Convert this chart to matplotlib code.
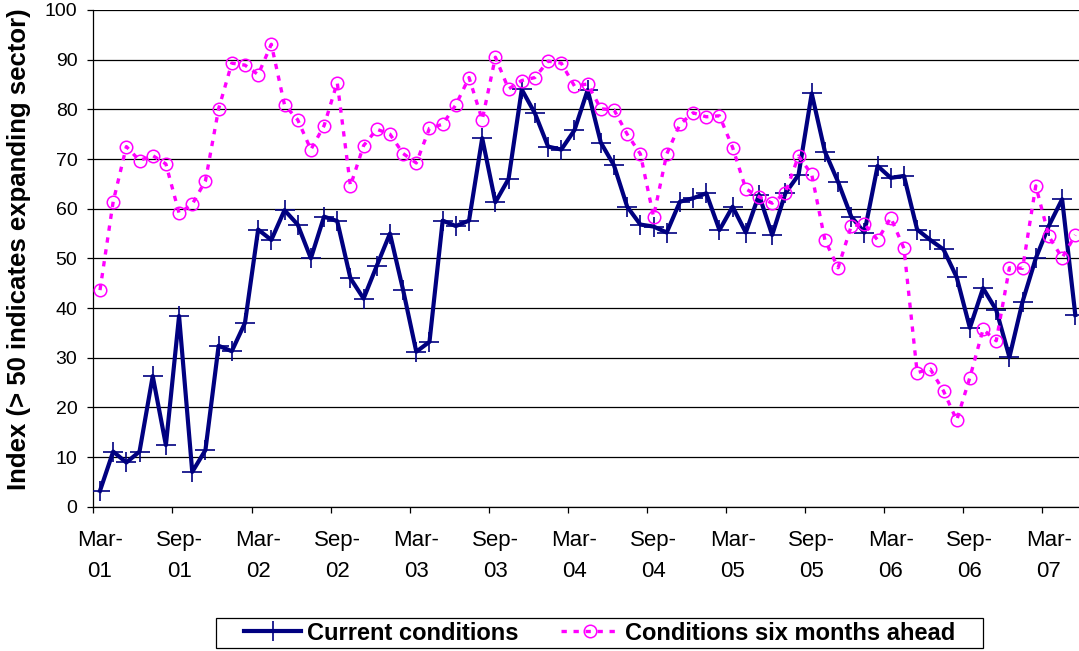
import matplotlib
matplotlib.use("Agg")
import matplotlib.pyplot as plt
from matplotlib.patches import Rectangle
from matplotlib.ticker import FixedLocator, NullFormatter

plt.rcParams['font.family'] = ['Liberation Sans', 'DejaVu Sans']

# Monthly survey readings, Mar-01 through May-07
current = [
    3.2, 11.1, 8.9, 11.1, 26.3, 12.4, 38.4, 7.0, 11.4, 32.4, 31.3, 37.0,
    55.8, 53.7, 59.7, 56.8, 50.0, 58.4, 57.5, 46.0, 41.9, 48.5, 55.0, 43.6,
    31.2, 33.2, 57.6, 56.5, 57.6, 74.2, 61.3, 66.0, 84.0, 79.2, 72.5, 71.9,
    75.8, 83.9, 73.3, 68.7, 60.4, 56.8, 56.4, 55.2, 61.4, 62.1, 63.1, 55.7,
    60.4, 55.2, 62.8, 54.7, 63.1, 66.8, 83.2, 71.5, 65.4, 58.4, 55.2, 68.6,
    66.2, 66.6, 55.8, 53.7, 51.8, 46.2, 36.0, 44.0, 39.6, 30.1, 41.3, 50.0,
    56.6, 61.9, 38.6,
]
six_months = [
    43.6, 61.4, 72.5, 69.7, 70.7, 69.0, 59.1, 60.9, 65.6, 80.1, 89.3, 88.9,
    87.0, 93.1, 80.9, 77.9, 71.9, 76.7, 85.4, 64.6, 72.7, 76.0, 75.0, 71.1,
    69.2, 76.2, 77.0, 80.9, 86.4, 77.9, 90.5, 84.1, 85.8, 86.4, 89.7, 89.3,
    84.7, 85.1, 80.1, 79.9, 75.0, 71.0, 58.4, 71.0, 77.0, 79.3, 78.5, 78.7,
    72.3, 64.0, 62.4, 61.1, 63.2, 70.6, 66.9, 53.7, 48.1, 56.5, 56.9, 53.7,
    58.2, 52.0, 27.0, 27.7, 23.3, 17.4, 26.0, 35.7, 33.4, 48.1, 48.0, 64.6,
    54.4, 50.1, 54.7,
]
tick_labels = ["Mar-\n01", "Sep-\n01", "Mar-\n02", "Sep-\n02", "Mar-\n03",
               "Sep-\n03", "Mar-\n04", "Sep-\n04", "Mar-\n05", "Sep-\n05",
               "Mar-\n06", "Sep-\n06", "Mar-\n07"]

W, H = 1079, 651
fig = plt.figure(figsize=(W / 100, H / 100), dpi=100)
ax = fig.add_axes([93.4 / W, 1 - 506.7 / H, 988.5 / W, 496.7 / H])

x = list(range(len(current)))
ax.plot(x, current, color='#000080', lw=3.0, marker='+', ms=14.5,
        mew=1.2, mec='#000080', label='Current conditions', zorder=3)
ax.plot(x, six_months, color='#ff00ff', lw=2.4, ls=(0, (1.6, 2.0)),
        marker='o', ms=9, mfc='none', mec='#ff00ff', mew=1.1,
        label='Conditions six months ahead', zorder=4)

ax.set_xlim(-0.5, len(current) - 0.5)
ax.set_ylim(0, 100)
ax.set_yticks(range(0, 101, 10))
ax.yaxis.grid(True, color='black', lw=0.9)
ax.set_axisbelow(True)

# labels sit on the category, tick marks sit on the boundaries
ax.set_xticks(range(0, 6 * len(tick_labels), 6))
ax.set_xticklabels(tick_labels, fontsize=16, linespacing=1.6)
ax.xaxis.set_minor_locator(FixedLocator([i - 0.5 for i in range(0, len(current), 6)]))
ax.xaxis.set_minor_formatter(NullFormatter())
ax.tick_params(axis='x', which='major', length=0, pad=17)
ax.tick_params(axis='x', which='minor', length=4.5, width=0.9, direction='out')
ax.tick_params(axis='y', length=4.5, width=0.9, pad=7, labelsize=14)

for side in ('top', 'right'):
    ax.spines[side].set_visible(False)
for side in ('left', 'bottom'):
    ax.spines[side].set_linewidth(0.9)

fig.text(19 / W, 1 - 249 / H, 'Index (> 50 indicates expanding sector)',
         rotation=90, ha='center', va='center', fontsize=18.5,
         fontweight='bold')

# legend box drawn separately so the padding can be wider than tall
fig.patches.append(Rectangle((216 / W, 1 - 648.3 / H), 767 / W, 30.6 / H,
                             transform=fig.transFigure, fill=False,
                             edgecolor='black', lw=0.9))
fig.legend(loc='center', bbox_to_anchor=(599.5 / W, 1 - 633 / H), ncol=2,
           frameon=False, prop={'size': 17, 'weight': 'bold'},
           handlelength=2.45, handletextpad=0.25, columnspacing=1.8,
           borderpad=0.0)

fig.savefig('out.png', dpi=100)
